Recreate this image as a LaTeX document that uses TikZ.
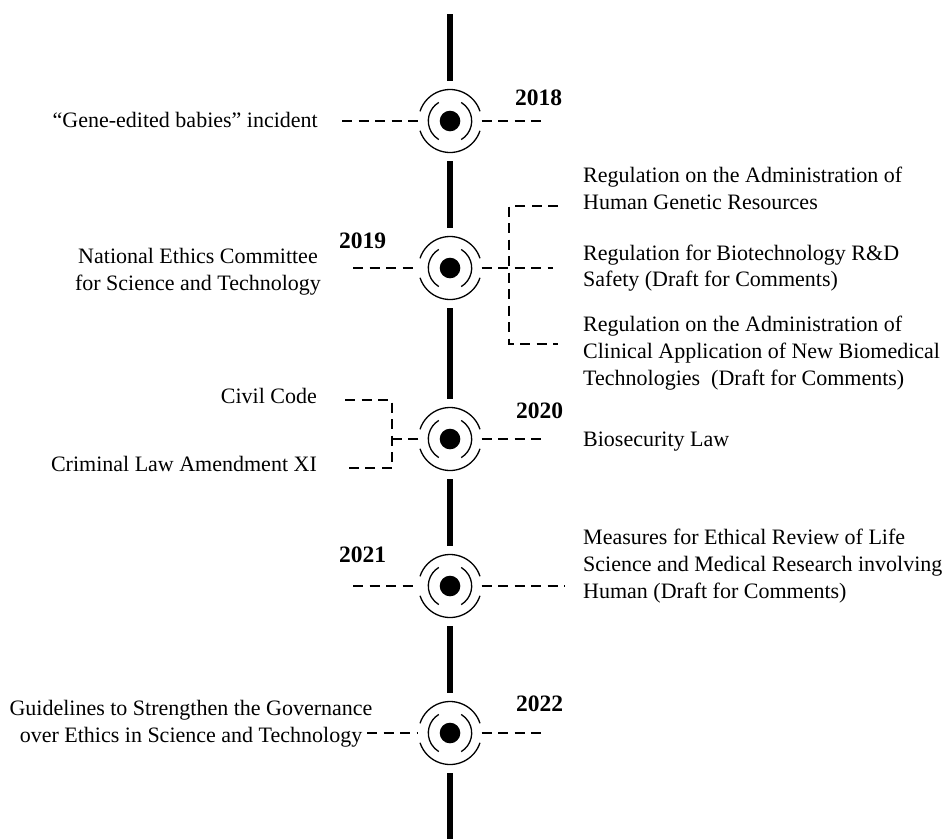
\documentclass[tikz,border=0pt]{standalone}
\usepackage{fontspec}
\setmainfont{Liberation Serif}
\begin{document}
\begin{tikzpicture}[x=1pt,y=-1pt,
  txt/.style={font=\fontsize{22}{26.7}\selectfont, inner sep=0pt},
  yr/.style={font=\fontsize{23.5}{28}\selectfont\bfseries, inner sep=0pt},
  dashline/.style={line width=1.4pt, dash pattern=on 10pt off 6.5pt},
  bar/.style={line width=6.7pt},
  marker/.style={circle, minimum size=63pt, inner sep=0pt},
  tm/.pic={
    \fill (0,0) circle (10.3pt);
    \draw[line width=1.3pt] (18:31.5pt) arc (18:162:31.5pt);
    \draw[line width=1.3pt] (-18:31.5pt) arc (-18:-162:31.5pt);
    \draw[line width=1.3pt] (-59:21.7pt) arc (-59:59:21.7pt);
    \draw[line width=1.3pt] (121:21.7pt) arc (121:239:21.7pt);
  }]
\useasboundingbox[fill=white] (0,0) rectangle (944,839);

% markers
\node[marker] (m18) at (450,121) {};
\node[marker] (m19) at (450,268) {};
\node[marker] (m20) at (450,439) {};
\node[marker] (m21) at (450,586) {};
\node[marker] (m22) at (450,733) {};
\foreach \m in {m18,m19,m20,m21,m22} { \pic at (\m) {tm}; }

% timeline
\coordinate (top) at (450,14);
\coordinate (bottom) at (450,839);
\draw[bar] (top) -- ([yshift=8.5pt]m18.north);
\draw[bar] ([yshift=-8.5pt]m18.south) -- ([yshift=8.5pt]m19.north);
\draw[bar] ([yshift=-8.5pt]m19.south) -- ([yshift=8.5pt]m20.north);
\draw[bar] ([yshift=-8.5pt]m20.south) -- ([yshift=8.5pt]m21.north);
\draw[bar] ([yshift=-8.5pt]m21.south) -- ([yshift=8.5pt]m22.north);
\draw[bar] ([yshift=-8.5pt]m22.south) -- (bottom);

% texts (anchor base = baseline of the last line)
\node[txt, anchor=base east] (t18) at (318,127.7) {“Gene-edited babies” incident};
\node[yr, anchor=base west] (y18) at (515,105) {2018};

\node[txt, align=center, anchor=base] (t19) at (198,290) {National Ethics Committee\\for Science and Technology};
\node[yr, anchor=base west] (y19) at (339,248.3) {2019};
\node[txt, align=left, anchor=base west] (t19a) at (583,209.5) {Regulation on the Administration of\\Human Genetic Resources};
\node[txt, align=left, anchor=base west] (t19b) at (583,286.7) {Regulation for Biotechnology R\&D\\Safety (Draft for Comments)};
\node[txt, align=left, anchor=base west] (t19c) at (583,385) {Regulation on the Administration of\\Clinical Application of New Biomedical\\Technologies\ \ (Draft for Comments)};

\node[txt, anchor=base east] (t20a) at (317,403.3) {Civil Code};
\node[txt, anchor=base east] (t20b) at (317,471.7) {Criminal Law Amendment XI};
\node[yr, anchor=base west] (y20) at (516,418.3) {2020};
\node[txt, anchor=base west] (t20c) at (583,446) {Biosecurity Law};

\node[yr, anchor=base west] (y21) at (339,562.7) {2021};
\node[txt, align=left, anchor=base west] (t21) at (583,598.3) {Measures for Ethical Review of Life\\Science and Medical Research involving\\Human (Draft for Comments)};

\node[txt, align=center, anchor=base] (t22) at (191,742) {Guidelines to Strengthen the Governance\\over Ethics in Science and Technology};
\node[yr, anchor=base west] (y22) at (516,711.7) {2022};

% connectors
\coordinate (l18) at (342,121);
\coordinate (r18) at (547,121);
\draw[dashline] (l18) -- (m18.west);
\draw[dashline] (m18.east) -- (r18);

\coordinate (l19) at (353,268);
\coordinate (r19) at (553,268);
\coordinate (j19) at (509,268);
\coordinate (k19a) at (558,206);
\coordinate (k19c) at (558,344);
\draw[dashline] (l19) -- (m19.west);
\draw[dashline] (m19.east) -- (r19);
\draw[dashline] (k19a) -| (j19) |- (k19c);

\coordinate (r20) at (545,439);
\coordinate (j20) at (392,439);
\coordinate (k20a) at (345,400);
\coordinate (k20b) at (345,468);
\draw[dashline] (m20.east) -- (r20);
\draw[dashline] (m20.west) -- (j20);
\draw[dashline] (k20a) -| (j20) |- (k20b);

\coordinate (l21) at (353,586);
\coordinate (r21) at (565,586);
\draw[dashline] (l21) -- (m21.west);
\draw[dashline] (m21.east) -- (r21);

\coordinate (l22) at (367,733);
\coordinate (r22) at (545,733);
\draw[dashline] (l22) -- (m22.west);
\draw[dashline] (m22.east) -- (r22);
\end{tikzpicture}
\end{document}
